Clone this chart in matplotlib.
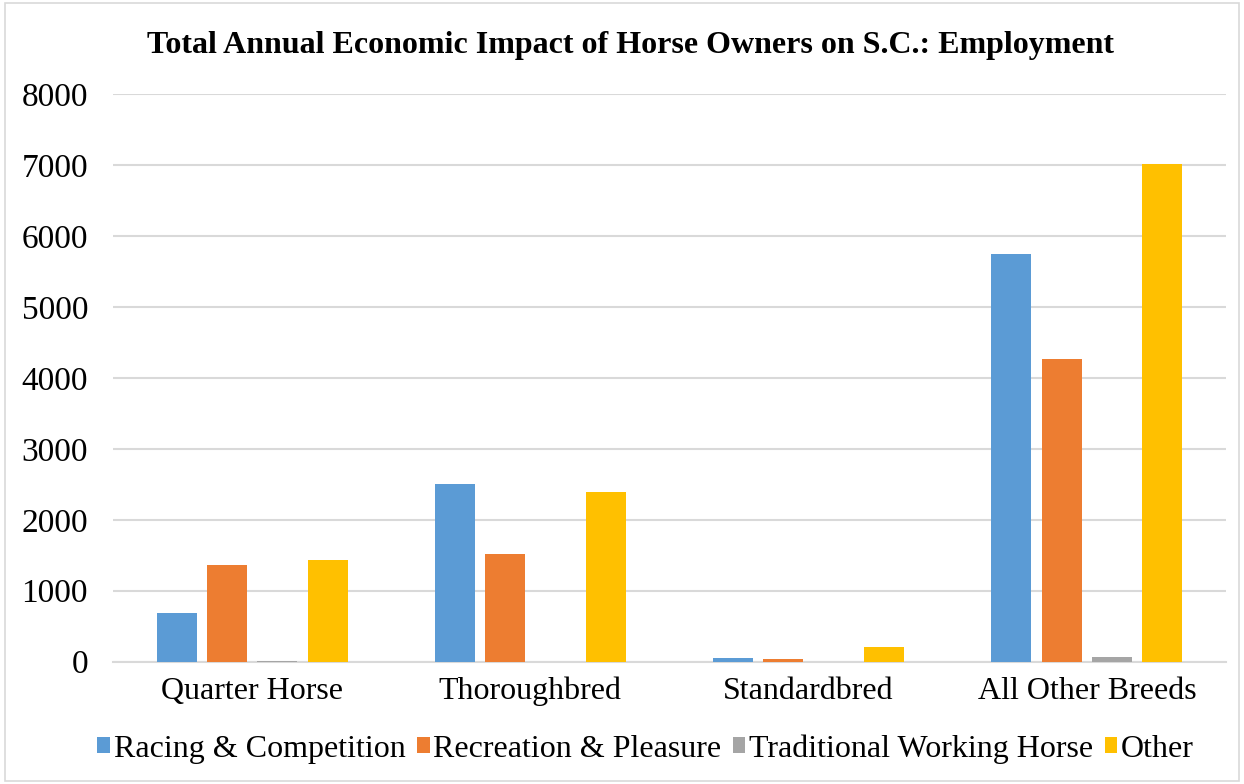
import numpy as np
import matplotlib.pyplot as plt
from matplotlib.patches import Rectangle

categories = ['Quarter Horse', 'Thoroughbred', 'Standardbred', 'All Other Breeds']
series_names = ['Racing & Competition', 'Recreation & Pleasure',
                'Traditional Working Horse', 'Other']
racing = [690, 2505, 48, 5740]
recreation = [1365, 1520, 45, 4265]
working = [10, 0, 0, 60]
other = [1435, 2390, 210, 7020]
colors = ['#5b9bd5', '#ed7d31', '#a5a5a5', '#ffc000']

plt.rcParams['font.family'] = ['Liberation Serif', 'DejaVu Serif']

fig = plt.figure(figsize=(12.44, 7.84), dpi=100)
fig.patches.append(Rectangle((0.004, 0.004), 0.992, 0.992, transform=fig.transFigure,
                             fill=False, edgecolor='#d9d9d9', linewidth=1.2))
ax = fig.add_axes([113 / 1244, 1 - 661.7 / 784, (1226 - 113) / 1244, (661.7 - 94) / 784])

x = np.arange(len(categories))
step = 0.181
width = 0.144
for i, (vals, name) in enumerate(zip([racing, recreation, working, other], series_names)):
    ax.bar(x + (i - 1.5) * step, vals, width, color=colors[i], label=name, zorder=3)

ax.set_xlim(-0.5, 3.5)
ax.set_ylim(0, 8000)
ax.set_yticks(range(0, 8001, 1000))
ax.yaxis.grid(True, color='#d9d9d9', linewidth=1.5, zorder=0)
ax.set_axisbelow(True)
for s in ['top', 'right', 'left']:
    ax.spines[s].set_visible(False)
ax.spines['bottom'].set_color('#d9d9d9')
ax.spines['bottom'].set_linewidth(1.5)
ax.tick_params(axis='y', length=0, labelsize=24, pad=18)
ax.tick_params(axis='x', length=0, labelsize=23, pad=11)
ax.set_xticks(x)
ax.set_xticklabels(categories)

fig.text(0.507, 1 - 45 / 784, 'Total Annual Economic Impact of Horse Owners on S.C.: Employment',
         ha='center', va='center', fontsize=23, fontweight='bold')

fig.legend(loc='center', bbox_to_anchor=(0.519, 1 - 749 / 784), ncol=4, frameon=False,
           prop={'family': 'Liberation Serif', 'size': 23},
           handlelength=0.4, handleheight=0.4, handletextpad=0.12,
           columnspacing=0.35)

fig.savefig('out.png', dpi=100)
